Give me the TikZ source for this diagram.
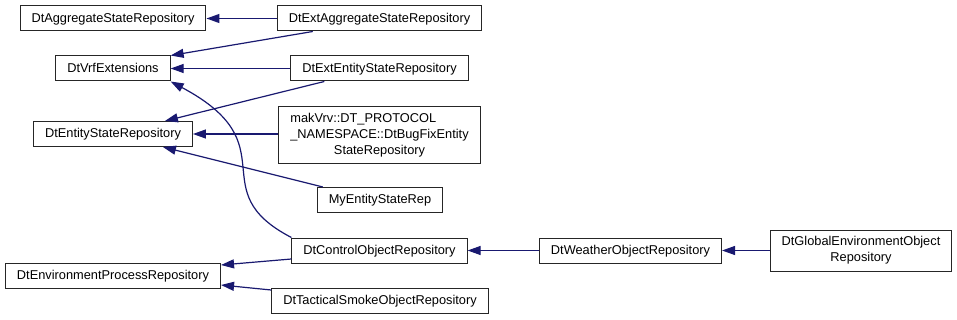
\documentclass[tikz,border=0pt]{standalone}
\usepackage{fontspec}
\setmainfont{Liberation Sans}
\usetikzlibrary{arrows.meta,positioning,calc}
\definecolor{ink}{HTML}{191970}
\tikzset{
  cls/.style={draw=black!85,line width=1pt,fill=white,inner xsep=11.5pt,inner ysep=0pt,minimum height=25pt,text height=9.6pt,text depth=2.4pt,text=black,font=\fontsize{12.8}{16}\selectfont},
  multi/.style={text height=,text depth=,align=center},
  inh/.style={-{Triangle[length=13pt,width=9pt]},line width=1.2pt,draw=ink}
}

\begin{document}
\begin{tikzpicture}[x=1pt,y=-1pt]
  \path[use as bounding box,fill=white] (0,0) rectangle (957,320);

  % left column: base classes
  \node[cls] (agg) at (113,18.5) {DtAggregateStateRepository};
  \node[cls] (vrf) at (113,68.5) {DtVrfExtensions};
  \node[cls] (ent) at (113,134) {DtEntityStateRepository};
  \node[cls] (envproc) at (113,276) {DtEnvironmentProcessRepository};

  % middle column
  \node[cls] (extagg) at (379.5,18.5) {DtExtAggregateStateRepository};
  \node[cls] (extent) at (379.5,68.5) {DtExtEntityStateRepository};
  \node[cls,multi,minimum height=57pt] (bugfix) at (379.5,135)
    {\begin{tabular}{@{}l@{}}makVrv::DT\_PROTOCOL\\\_NAMESPACE::DtBugFixEntity\\\multicolumn{1}{@{}c@{}}{StateRepository}\end{tabular}};
  \node[cls] (myent) at (380,200) {MyEntityStateRep};
  \node[cls] (ctrl) at (379.5,250.5) {DtControlObjectRepository};
  \node[cls] (smoke) at (380,301) {DtTacticalSmokeObjectRepository};

  % right side
  \node[cls] (weather) at (630.5,250.5) {DtWeatherObjectRepository};
  \node[cls,multi,minimum height=41pt] (global) at (861,250.5) {DtGlobalEnvironmentObject\\Repository};

  \draw[inh] (extagg) -- (agg);
  \draw[inh] ([xshift=36pt]extagg.south west) -- (vrf.north east);
  \draw[inh] (extent) -- (vrf);
  \draw[inh] ([xshift=34pt]extent.south west) -- ([xshift=-28pt]ent.north east);
  \draw[inh] (bugfix.west |- ent) -- (ent);
  \draw[inh] ([xshift=6pt]myent.north west) -- ([xshift=-30pt]ent.south east);
  \draw[inh] (ctrl.north west) .. controls (200,190) and (290,145) .. (vrf.south east);
  \draw[inh] ([yshift=-8.5pt]ctrl.west) -- ([yshift=-2pt]envproc.north east);
  \draw[inh] ([yshift=-2pt]smoke.north west) -- ([yshift=4pt]envproc.south east);
  \draw[inh] (weather) -- (ctrl);
  \draw[inh] (global) -- (weather);
\end{tikzpicture}
\end{document}
